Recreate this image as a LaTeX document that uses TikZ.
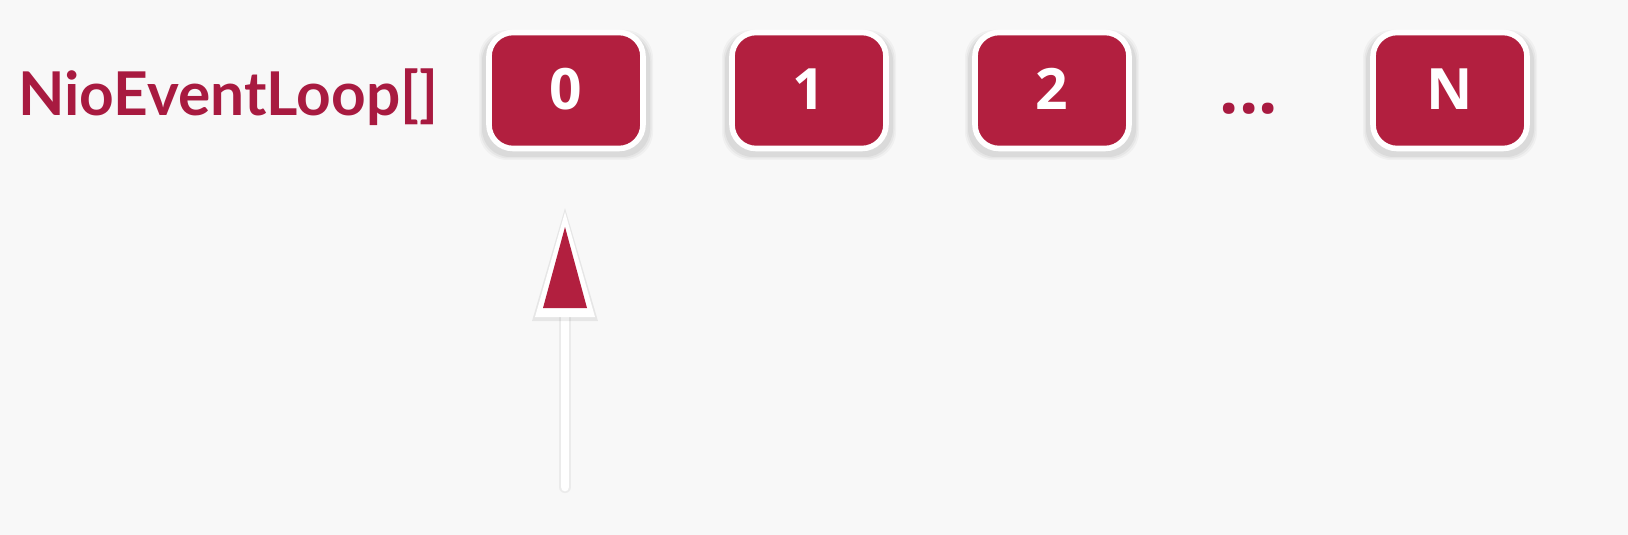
\documentclass[tikz,border=0pt]{standalone}
\usepackage{fontspec}
\setmainfont{Open Sans}
\newfontfamily\labelfont{Lato}
\usetikzlibrary{calc}
\definecolor{bg}{HTML}{F8F8F8}
\definecolor{boxred}{HTML}{B21F3F}
\definecolor{txtred}{HTML}{A81A40}
\begin{document}
\begin{tikzpicture}[x=0.5pt,y=-0.5pt,
  slot/.style={minimum width=77pt, minimum height=58pt, rounded corners=12pt,
     fill=boxred, draw=white, line width=2.8pt, inner sep=0pt},
  slottext/.style={font=\bfseries\fontsize{28.5}{30}\selectfont, text=white, anchor=base},
  labeltext/.style={font=\labelfont\bfseries\fontsize{30.2}{32}\selectfont, text=txtred}
]
\useasboundingbox (0,0) rectangle (1628,535);
\fill[bg] (0,0) rectangle (1628,535);
\node[labeltext, anchor=base west, inner sep=0pt] (label) at (18,116) {NioEventLoop[]};
\foreach \n/\x/\t in {s0/566/0, s1/809/1, s2/1052/2, sN/1450/N}{
  \foreach \o/\e in {0.03/10, 0.04/7, 0.05/4}{
    \fill[black, opacity=\o, rounded corners=14pt] (\x-82-\e/2,35-\e/2) rectangle (\x+82+\e/2,155+\e/2);
  }
  \node[slot] (\n) at (\x,90.5) {};
  \node[slottext] (\n t) at (\x,110) {\t};
}
\node[text=txtred, font=\bfseries\fontsize{34}{36}\selectfont, anchor=base, inner sep=0pt] (dots) at (1249,114) {...};
% arrow
\coordinate (tail) at (565,487);
\coordinate (tipbase) at (565,317);
\coordinate (tip) at (565,212);
\draw[black!8, line width=6pt, line cap=round] (tail) -- (tipbase);
\draw[white, line width=4.4pt, line cap=round] (tail) -- (tipbase);
\fill[black, opacity=0.07] ($(tipbase)+(-33,4)$) -- ($(tip)+(0,-4)$) -- ($(tipbase)+(33,4)$) -- cycle;
\fill[white] ($(tipbase)+(-30,0)$) -- (tip) -- ($(tipbase)+(30,0)$) -- cycle;
\fill[boxred] ($(tipbase)+(-22,-9)$) -- ($(tip)+(0,15)$) -- ($(tipbase)+(22,-9)$) -- cycle;
\end{tikzpicture}
\end{document}
